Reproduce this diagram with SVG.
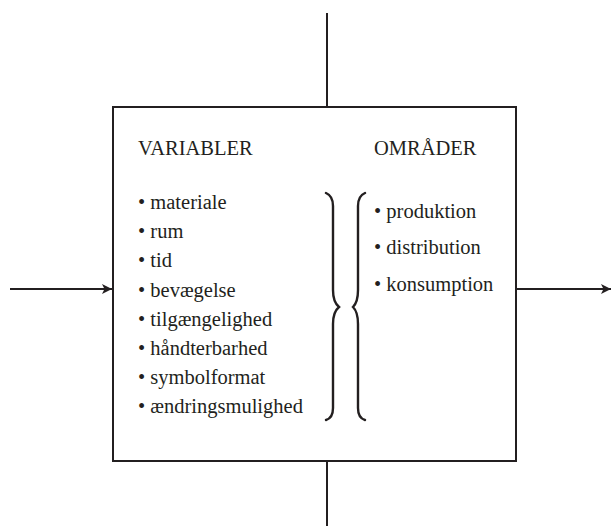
<svg xmlns="http://www.w3.org/2000/svg" width="612" height="526" viewBox="0 0 612 526">
<defs>
<style>
.ln{stroke:#231f20;stroke-width:2;fill:none}
.br{stroke:#231f20;stroke-width:2.4;fill:none;stroke-linecap:round}
.t{font-family:"Liberation Serif","Times New Roman",serif;font-size:20.5px;fill:#231f20}
</style>
<marker id="ah" viewBox="0 0 10 10" refX="10" refY="5" markerWidth="10" markerHeight="10" markerUnits="userSpaceOnUse" orient="auto">
<path d="M0,0 L10,5 L0,10 L2.5,5 Z" fill="#231f20"/>
</marker>
</defs>
<rect width="612" height="526" fill="#ffffff"/>
<g id="connectors">
<line class="ln" x1="327" y1="13" x2="327" y2="107"/>
<line class="ln" x1="327" y1="461" x2="327" y2="526"/>
<line class="ln" x1="10" y1="289" x2="112" y2="289" marker-end="url(#ah)"/>
<line class="ln" x1="517" y1="289" x2="611" y2="289" marker-end="url(#ah)"/>
</g>
<g id="box">
<rect class="ln" x="113" y="107" width="403" height="354"/>
</g>
<g id="variabler">
<text class="t" x="138" y="155">VARIABLER</text>
<text class="t" x="138" y="209">• materiale</text>
<text class="t" x="138" y="238">• rum</text>
<text class="t" x="138" y="267">• tid</text>
<text class="t" x="138" y="297">• bevægelse</text>
<text class="t" x="138" y="326">• tilgængelighed</text>
<text class="t" x="138" y="355">• håndterbarhed</text>
<text class="t" x="138" y="384">• symbolformat</text>
<text class="t" x="138" y="413">• ændringsmulighed</text>
</g>
<g id="braces">
<path class="br" d="M326,193 Q333,196 333,206 L333,290 Q333,302 339,307 Q333,312 333,324 L333,408 Q333,418 326,420"/>
<path class="br" d="M365,193 Q358,196 358,206 L358,290 Q358,302 353,307 Q358,312 358,324 L358,408 Q358,418 365,420"/>
</g>
<g id="omraader">
<text class="t" x="374" y="155">OMRÅDER</text>
<text class="t" x="374" y="218">• produktion</text>
<text class="t" x="374" y="254">• distribution</text>
<text class="t" x="374" y="291">• konsumption</text>
</g>
</svg>
